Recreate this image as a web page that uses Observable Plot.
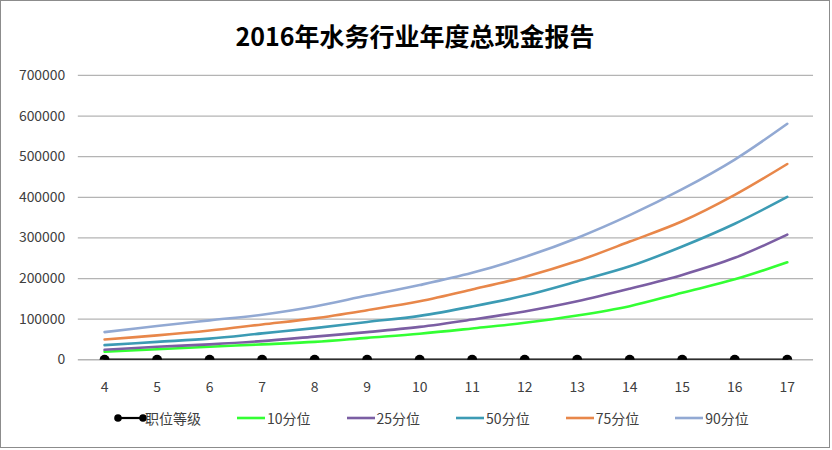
<!DOCTYPE html>
<html>
<head>
<meta charset="utf-8">
<script src="https://cdn.jsdelivr.net/npm/d3@7"></script>
<script src="https://cdn.jsdelivr.net/npm/@observablehq/plot@0.6"></script>
<style>
  html, body { margin: 0; padding: 0; background: #fff; }
  #box { position: absolute; left: 0; top: 0; width: 828px; height: 446px; border: 1px solid #8c8c8c; background: #fff; overflow: hidden; }
  #title { position: absolute; left: 0; top: 15px; width: 828px; text-align: center; font-family: "Noto Sans CJK SC", sans-serif; font-weight: bold; font-size: 25px; line-height: 38px; color: #000; }
  #chart { position: absolute; left: 0; top: 59px; }
  #legend { position: absolute; left: 113px; top: 405px; display: flex; align-items: center; gap: 36px; font-family: "Noto Sans CJK SC", sans-serif; font-size: 14px; color: #404040; line-height: 24px; }
  .item { display: flex; align-items: center; }
  .item svg { display: block; margin-right: 2px; }
</style>
</head>
<body>
<div id="box">
  <div id="title">2016年水务行业年度总现金报告</div>
  <div id="chart"></div>
  <div id="legend"></div>
</div>
<script>
// Categories (job grade)
const grades = [4, 5, 6, 7, 8, 9, 10, 11, 12, 13, 14, 15, 16, 17];
// Series: 职位等级 (the grade itself, plotted on the same axis)
const gradeSeries = [4, 5, 6, 7, 8, 9, 10, 11, 12, 13, 14, 15, 16, 17];
const p10 = [19600, 26000, 32000, 38000, 44000, 54000, 64000, 77000, 91000, 109000, 132000, 165000, 198000, 240000];
const p25 = [24500, 32000, 38000, 46000, 57000, 68000, 81000, 99000, 119000, 144000, 175000, 209000, 251000, 308000];
const p50 = [36000, 44000, 52000, 65000, 78000, 93000, 108000, 131000, 158000, 193000, 230000, 279000, 335000, 401000];
const p75 = [50000, 60000, 72000, 87000, 102000, 122000, 144000, 173000, 204000, 243000, 291000, 341000, 406000, 482000];
const p90 = [68000, 83000, 97000, 111000, 131000, 158000, 184000, 214000, 253000, 300000, 356000, 420000, 493000, 581000];
const yTicks = [0, 100000, 200000, 300000, 400000, 500000, 600000, 700000];
const seriesNames = ["职位等级", "10分位", "25分位", "50分位", "75分位", "90分位"];
const seriesColors = ["#000000", "#33ff33", "#7b5ea3", "#3c9bb4", "#e8874a", "#92a9d3"];

const seriesValues = [gradeSeries, p10, p25, p50, p75, p90];
const rows = [];
seriesNames.forEach((name, si) => {
  grades.forEach((g, i) => rows.push({ grade: g, value: seriesValues[si][i], series: name }));
});
const pctRows = rows.filter(d => d.series !== "职位等级");
const gradeRows = rows.filter(d => d.series === "职位等级");

const W = 830, H = 340, ML = 77, MR = 16, MT = 15, MB = 40;
const chart = Plot.plot({
  width: W,
  height: H,
  marginLeft: ML,
  marginRight: MR,
  marginTop: MT,
  marginBottom: MB,
  style: { fontFamily: "Noto Sans CJK SC, sans-serif", fontSize: "14px", color: "#404040", background: "transparent", overflow: "visible" },
  x: { type: "point", domain: grades, padding: 0.5, round: false, label: null },
  y: { domain: [0, 700000], label: null },
  color: { domain: seriesNames, range: seriesColors },
  marks: [
    Plot.ruleY(yTicks, { stroke: "#b4b4b4", strokeWidth: 1.3 }),
    Plot.axisY(yTicks, { tickSize: 0, tickPadding: 13, tickFormat: d => String(d), fill: "#404040" }),
    Plot.axisX(grades, { tickSize: 0, tickPadding: 22, fill: "#404040" }),
    Plot.line(pctRows, { x: "grade", y: "value", z: "series", stroke: "series", strokeWidth: 2.6, curve: "catmull-rom" }),
    Plot.line(gradeRows, { x: "grade", y: "value", stroke: "series", strokeWidth: 2.4 }),
    Plot.dot(gradeRows, { x: "grade", y: "value", fill: "series", r: 5 })
  ]
});
// clip the grade series to the plot frame (half-visible dots on the baseline)
(function () {
  const ns = "http://www.w3.org/2000/svg";
  const defs = document.createElementNS(ns, "defs");
  const cp = document.createElementNS(ns, "clipPath");
  cp.setAttribute("id", "frameclip");
  const r = document.createElementNS(ns, "rect");
  r.setAttribute("x", ML); r.setAttribute("y", MT);
  r.setAttribute("width", W - ML - MR); r.setAttribute("height", H - MT - MB);
  cp.appendChild(r); defs.appendChild(cp);
  chart.insertBefore(defs, chart.firstChild);
  const targets = new Set();
  chart.querySelectorAll("circle").forEach(c => targets.add(c.parentNode));
  chart.querySelectorAll("path").forEach(p => {
    const s = (p.getAttribute("stroke") || (p.parentNode && p.parentNode.getAttribute && p.parentNode.getAttribute("stroke")) || "").toLowerCase();
    if (s === "#000000" || s === "rgb(0, 0, 0)" || s === "black" || s === "#000") targets.add(p);
  });
  targets.forEach(el => el.setAttribute("clip-path", "url(#frameclip)"));
})();
document.getElementById("chart").appendChild(chart);

// Legend
const legend = document.getElementById("legend");
seriesNames.forEach((name, i) => {
  const item = document.createElement("div");
  item.className = "item";
  const w = i === 0 ? 33 : 28;
  const ns = "http://www.w3.org/2000/svg";
  const svg = document.createElementNS(ns, "svg");
  svg.setAttribute("width", w);
  svg.setAttribute("height", 10);
  const line = document.createElementNS(ns, "line");
  line.setAttribute("x1", i === 0 ? 4 : 0);
  line.setAttribute("x2", i === 0 ? w - 4 : w);
  line.setAttribute("y1", 5);
  line.setAttribute("y2", 5);
  line.setAttribute("stroke", seriesColors[i]);
  line.setAttribute("stroke-width", i === 0 ? 2.2 : 2.6);
  svg.appendChild(line);
  if (i === 0) {
    [4, w - 4].forEach(cx => {
      const c = document.createElementNS(ns, "circle");
      c.setAttribute("cx", cx); c.setAttribute("cy", 5); c.setAttribute("r", 3.8);
      c.setAttribute("fill", "#000");
      svg.appendChild(c);
    });
  }
  item.appendChild(svg);
  const t = document.createElement("span");
  t.textContent = name;
  if (i === 0) t.style.marginLeft = "-4px";
  item.appendChild(t);
  legend.appendChild(item);
});
</script>
</body>
</html>
